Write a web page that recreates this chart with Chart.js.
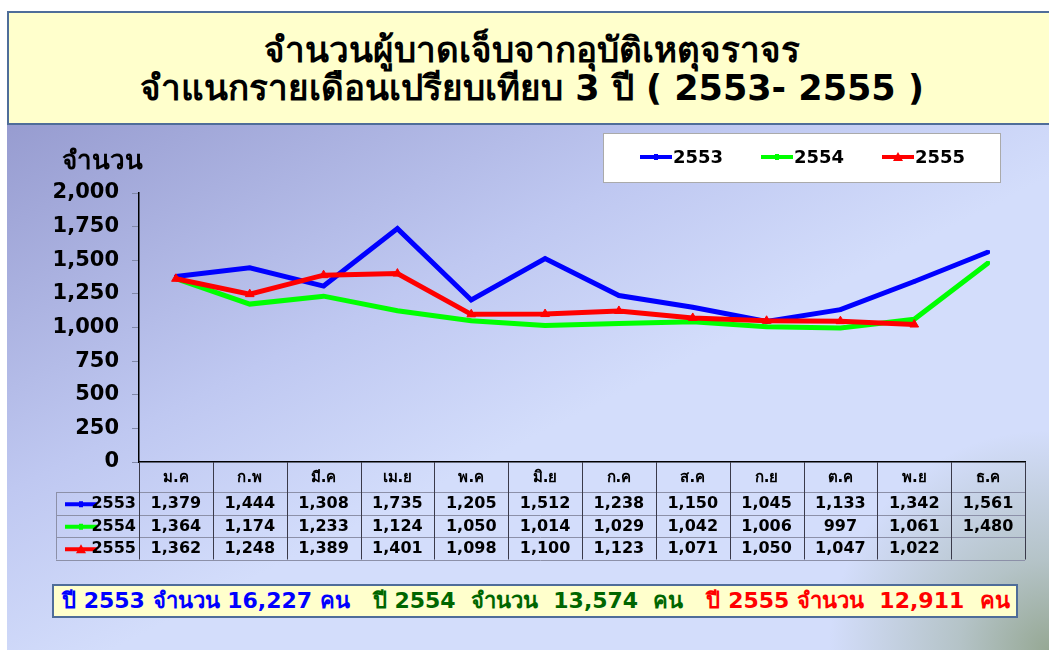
<!DOCTYPE html>
<html>
<head>
<meta charset="utf-8">
<script src="https://cdn.jsdelivr.net/npm/chart.js@4.4.0/dist/chart.umd.min.js"></script>
<style>
  body { margin: 0; background: #fff; width: 1049px; height: 650px; overflow: hidden; position: relative; font-family: "DejaVu Sans", sans-serif; }
  #title {
    position: absolute; left: 7px; top: 11px; width: 1050px; height: 114px;
    background: #ffffcc; border: 2px solid #4f6d99; box-sizing: border-box;
    text-align: center; font-weight: bold; font-size: 35px; line-height: 38px;
    padding-top: 18px; color: #000;
  }
  #bg {
    position: absolute; left: 7px; top: 125px; width: 1042px; height: 525px;
    background:
      radial-gradient(circle at 100% 100%, rgba(150,168,148,1) 0px, rgba(160,178,165,0.6) 90px, rgba(200,215,240,0) 220px),
      linear-gradient(to bottom right, #979cd0 0%, #bfc8f1 35%, #d3ddfb 55%, #d3ddfb 100%);
  }
  #chartWrap { position: absolute; left: 0; top: 2px; width: 1042px; height: 523px; }
  #ytitle { position: absolute; left: 55px; top: 14px; font-weight: bold; font-size: 26px; color: #000; }
  #summary {
    position: absolute; left: 52px; top: 584px; width: 966px; height: 34px;
    background: #ffffcc; border: 2px solid #4f6d99; box-sizing: border-box;
    font-weight: bold; font-size: 22px; line-height: 30px; white-space: pre;
    padding-left: 8px;
  }
  .b { color: #0000ff; } .g { color: #006600; } .r { color: #ff0000; }
</style>
</head>
<body>
<div id="title">จำนวนผู้บาดเจ็บจากอุบัติเหตุจราจร<br>จำแนกรายเดือนเปรียบเทียบ 3 ปี ( 2553- 2555 )</div>
<div id="bg">
  <div id="chartWrap"><canvas id="chart" width="1042" height="523"></canvas></div>
  <div id="ytitle">จำนวน</div>
</div>
<div id="summary"><span class="b">ปี 2553 จำนวน 16,227 คน</span>   <span class="g">ปี 2554  จำนวน  13,574  คน</span>   <span class="r">ปี 2555 จำนวน  12,911  คน</span></div>
<script>
const months = ['ม.ค', 'ก.พ', 'มี.ค', 'เม.ย', 'พ.ค', 'มิ.ย', 'ก.ค', 'ส.ค', 'ก.ย', 'ต.ค', 'พ.ย', 'ธ.ค'];
const years = ['2553', '2554', '2555'];
const y2553 = [1379, 1444, 1308, 1735, 1205, 1512, 1238, 1150, 1045, 1133, 1342, 1561];
const y2554 = [1364, 1174, 1233, 1124, 1050, 1014, 1029, 1042, 1006, 997, 1061, 1480];
const y2555 = [1362, 1248, 1389, 1401, 1098, 1100, 1123, 1071, 1050, 1047, 1022, null];
const yTicks = [0, 250, 500, 750, 1000, 1250, 1500, 1750, 2000];

const colors = ['#0000ff', '#00ff00', '#ff0000'];
const series = [y2553, y2554, y2555];
const fmt = v => v == null ? '' : v.toLocaleString('en-US');

function drawMarker(ctx, i, x, y) {
    ctx.save();
    ctx.strokeStyle = colors[i];
    ctx.lineWidth = 4;
    ctx.beginPath();
    ctx.moveTo(x - 16, y);
    ctx.lineTo(x + 16, y);
    ctx.stroke();
    ctx.fillStyle = colors[i];
    if (i === 2) {
        ctx.beginPath();
        ctx.moveTo(x, y - 5);
        ctx.lineTo(x + 5, y + 4);
        ctx.lineTo(x - 5, y + 4);
        ctx.closePath();
        ctx.fill();
    } else {
        ctx.fillRect(x - 2, y - 3, 4, 6);
    }
    ctx.restore();
}

// legend box + data table under the axis
const extras = {
    id: 'extras',
    afterDraw(chart) {
        const ctx = chart.ctx;
        const area = chart.chartArea;
        const xs = chart.scales.x;

        // legend
        ctx.save();
        ctx.fillStyle = '#ffffff';
        ctx.fillRect(596, 6, 397, 49);
        ctx.strokeStyle = '#aaaaaa';
        ctx.lineWidth = 1;
        ctx.strokeRect(596.5, 6.5, 397, 49);
        ctx.font = 'bold 18px "DejaVu Sans"';
        ctx.textBaseline = 'middle';
        ctx.fillStyle = '#000';
        const legX = [649, 770, 891];
        years.forEach((yr, i) => {
            drawMarker(ctx, i, legX[i], 30);
            ctx.fillText(yr, legX[i] + 17, 31);
        });
        ctx.restore();

        // table
        const step = xs.getPixelForValue(1) - xs.getPixelForValue(0);
        const left = area.left;
        const right = area.right;
        const top = area.bottom;
        const headH = 30;
        const rowH = 22.5;
        const rowsTop = top + headH;
        const bottom = rowsTop + rowH * 3;
        const legLeft = 49;

        ctx.save();
        ctx.lineWidth = 1;
        ctx.strokeStyle = '#8c90a8';
        for (let r = 0; r <= 3; r++) {
            const y = Math.round(rowsTop + r * rowH) + 0.5;
            ctx.beginPath();
            ctx.moveTo(legLeft, y);
            ctx.lineTo(right, y);
            ctx.stroke();
        }
        ctx.beginPath();
        ctx.moveTo(legLeft + 0.5, rowsTop);
        ctx.lineTo(legLeft + 0.5, bottom);
        ctx.stroke();
        ctx.strokeStyle = '#3a3a4a';
        for (let c = 0; c <= months.length; c++) {
            const x = Math.round(left + c * step) + 0.5;
            ctx.beginPath();
            ctx.moveTo(x, top);
            ctx.lineTo(x, bottom);
            ctx.stroke();
        }
        ctx.font = 'bold 16px "DejaVu Sans"';
        ctx.textAlign = 'center';
        ctx.textBaseline = 'middle';
        ctx.fillStyle = '#000';
        series.forEach((arr, r) => {
            const cy = rowsTop + r * rowH + rowH / 2 + 1;
            arr.forEach((v, c) => {
                ctx.fillText(fmt(v), xs.getPixelForValue(c), cy);
            });
        });
        ctx.font = 'bold 16px "DejaVu Sans"';
        ctx.textAlign = 'right';
        years.forEach((yr, r) => {
            const cy = rowsTop + r * rowH + rowH / 2 + 1;
            drawMarker(ctx, r, legLeft + 25, cy);
            ctx.fillStyle = '#000';
            ctx.fillText(yr, left - 3, cy);
        });
        ctx.restore();
    }
};

const datasets = years.map((yr, i) => ({
    label: yr,
    data: series[i],
    borderColor: colors[i],
    backgroundColor: colors[i],
    borderWidth: 5,
    pointStyle: i === 2 ? 'triangle' : 'rect',
    pointRadius: i === 2 ? 5 : 2,
    pointBorderWidth: 1,
    tension: 0,
    order: 2 - i
}));

new Chart(document.getElementById('chart'), {
    type: 'line',
    data: { labels: months, datasets: datasets },
    plugins: [extras],
    options: {
        responsive: false,
        animation: false,
        devicePixelRatio: 1,
        layout: { padding: { left: 0, top: 66, right: 24, bottom: 158 } },
        plugins: { legend: { display: false }, tooltip: { enabled: false } },
        scales: {
            x: {
                offset: true,
                afterFit(scale) { scale.height = 30; },
                grid: { display: false, drawTicks: false },
                border: { display: true, color: '#000', width: 1.5 },
                ticks: { color: '#000', padding: 7, font: { family: '"DejaVu Sans"', weight: 'bold', size: 15 } }
            },
            y: {
                min: 0,
                max: 2000,
                afterFit(scale) { scale.width = 132; },
                afterBuildTicks(scale) { scale.ticks = yTicks.map(v => ({ value: v })); },
                grid: { drawOnChartArea: false, drawTicks: true, tickLength: 7, color: '#8088a8' },
                border: { display: true, color: '#000', width: 1.5 },
                ticks: {
                    color: '#000',
                    padding: 13,
                    font: { family: '"DejaVu Sans"', weight: 'bold', size: 21 },
                    callback: v => v.toLocaleString('en-US')
                }
            }
        }
    }
});
</script>
</body>
</html>
